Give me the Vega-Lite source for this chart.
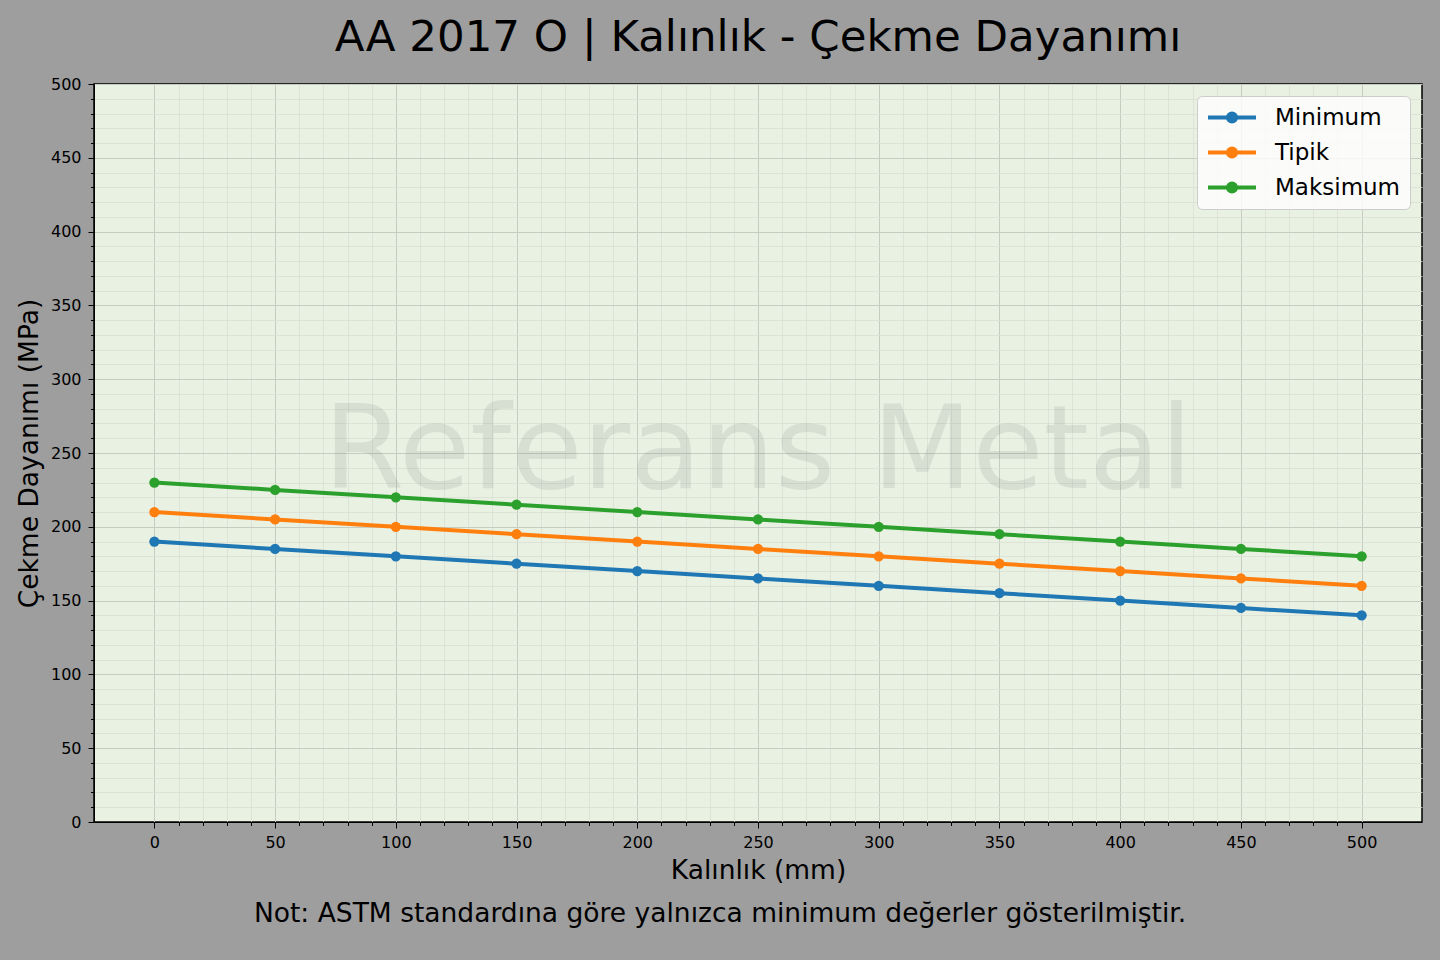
{
  "$schema": "https://vega.github.io/schema/vega-lite/v6.json",
  "width": 1328,
  "height": 738,
  "autosize": {"type": "none"},
  "padding": {"left": 94, "top": 84, "right": 18, "bottom": 138},
  "background": "#9e9e9e",
  "view": {"fill": "#e9f1e3", "stroke": "#000000", "strokeWidth": 1.5},
  "config": {"font": "DejaVu Sans"},
  "title": {
    "text": "AA 2017 O | Kalınlık - Çekme Dayanımı",
    "fontSize": 43.5,
    "font": "DejaVu Sans",
    "fontWeight": "normal",
    "color": "#000000",
    "anchor": "middle",
    "baseline": "alphabetic",
    "offset": 24,
    "dy": 42
  },
  "resolve": {"axis": {"x": "independent", "y": "independent"}},
  "data": {
    "values": [
      {"seri": "Minimum", "kalinlik": 0, "deger": 190},
      {"seri": "Minimum", "kalinlik": 50, "deger": 185},
      {"seri": "Minimum", "kalinlik": 100, "deger": 180},
      {"seri": "Minimum", "kalinlik": 150, "deger": 175},
      {"seri": "Minimum", "kalinlik": 200, "deger": 170},
      {"seri": "Minimum", "kalinlik": 250, "deger": 165},
      {"seri": "Minimum", "kalinlik": 300, "deger": 160},
      {"seri": "Minimum", "kalinlik": 350, "deger": 155},
      {"seri": "Minimum", "kalinlik": 400, "deger": 150},
      {"seri": "Minimum", "kalinlik": 450, "deger": 145},
      {"seri": "Minimum", "kalinlik": 500, "deger": 140},
      {"seri": "Tipik", "kalinlik": 0, "deger": 210},
      {"seri": "Tipik", "kalinlik": 50, "deger": 205},
      {"seri": "Tipik", "kalinlik": 100, "deger": 200},
      {"seri": "Tipik", "kalinlik": 150, "deger": 195},
      {"seri": "Tipik", "kalinlik": 200, "deger": 190},
      {"seri": "Tipik", "kalinlik": 250, "deger": 185},
      {"seri": "Tipik", "kalinlik": 300, "deger": 180},
      {"seri": "Tipik", "kalinlik": 350, "deger": 175},
      {"seri": "Tipik", "kalinlik": 400, "deger": 170},
      {"seri": "Tipik", "kalinlik": 450, "deger": 165},
      {"seri": "Tipik", "kalinlik": 500, "deger": 160},
      {"seri": "Maksimum", "kalinlik": 0, "deger": 230},
      {"seri": "Maksimum", "kalinlik": 50, "deger": 225},
      {"seri": "Maksimum", "kalinlik": 100, "deger": 220},
      {"seri": "Maksimum", "kalinlik": 150, "deger": 215},
      {"seri": "Maksimum", "kalinlik": 200, "deger": 210},
      {"seri": "Maksimum", "kalinlik": 250, "deger": 205},
      {"seri": "Maksimum", "kalinlik": 300, "deger": 200},
      {"seri": "Maksimum", "kalinlik": 350, "deger": 195},
      {"seri": "Maksimum", "kalinlik": 400, "deger": 190},
      {"seri": "Maksimum", "kalinlik": 450, "deger": 185},
      {"seri": "Maksimum", "kalinlik": 500, "deger": 180}
    ]
  },
  "layer": [
    {
      "data": {"values": [{"metin": "Referans Metal"}]},
      "mark": {"type": "text", "fontSize": 116, "font": "DejaVu Sans", "color": "rgba(128,128,128,0.17)", "align": "center", "baseline": "alphabetic"},
      "encoding": {
        "x": {"datum": 250, "type": "quantitative", "axis": null},
        "y": {"datum": 226, "type": "quantitative", "axis": null},
        "text": {"field": "metin"}
      }
    },
    {
      "mark": {"type": "point", "filled": true, "size": 0, "opacity": 0},
      "encoding": {
        "x": {
          "field": "kalinlik",
          "type": "quantitative",
          "axis": {
            "orient": "bottom",
            "title": null,
            "labels": false,
            "domain": false,
            "values": [0,10,20,30,40,60,70,80,90,110,120,130,140,160,170,180,190,210,220,230,240,260,270,280,290,310,320,330,340,360,370,380,390,410,420,430,440,460,470,480,490],
            "tickColor": "#000000",
            "tickSize": 3.5,
            "grid": true,
            "gridColor": "#d9e0d4",
            "gridWidth": 0.8
          }
        },
        "y": {
          "field": "deger",
          "type": "quantitative",
          "axis": {
            "orient": "left",
            "title": null,
            "labels": false,
            "domain": false,
            "values": [10,20,30,40,60,70,80,90,110,120,130,140,160,170,180,190,210,220,230,240,260,270,280,290,310,320,330,340,360,370,380,390,410,420,430,440,460,470,480,490],
            "tickColor": "#000000",
            "tickSize": 3.5,
            "grid": true,
            "gridColor": "#d9e0d4",
            "gridWidth": 0.8
          }
        }
      }
    },
    {
      "mark": {"type": "line", "strokeWidth": 4},
      "encoding": {
        "x": {
          "field": "kalinlik",
          "type": "quantitative",
          "scale": {"domain": [-25, 525], "nice": false, "zero": false},
          "axis": {
            "orient": "bottom",
            "title": "Kalınlık (mm)",
            "titleFontSize": 26.5,
            "titleFontWeight": "normal",
            "titleColor": "#000000",
            "titlePadding": 7,
            "values": [0,50,100,150,200,250,300,350,400,450,500],
            "labelFontSize": 16,
            "labelColor": "#000000",
            "labelPadding": 6,
            "labelFlush": false,
            "labelOverlap": false,
            "domainColor": "#000000",
            "tickColor": "#000000",
            "tickSize": 6,
            "grid": true,
            "gridColor": "#c6ccc1",
            "gridWidth": 1
          }
        },
        "y": {
          "field": "deger",
          "type": "quantitative",
          "scale": {"domain": [0, 500], "nice": false},
          "axis": {
            "orient": "left",
            "title": "Çekme Dayanımı (MPa)",
            "titleFontSize": 26.5,
            "titleFontWeight": "normal",
            "titleColor": "#000000",
            "titlePadding": 7,
            "values": [0,50,100,150,200,250,300,350,400,450,500],
            "labelFontSize": 16,
            "labelColor": "#000000",
            "labelPadding": 7,
            "labelFlush": false,
            "labelOverlap": false,
            "domainColor": "#000000",
            "tickColor": "#000000",
            "tickSize": 6,
            "grid": true,
            "gridColor": "#c6ccc1",
            "gridWidth": 1
          }
        },
        "color": {
          "field": "seri",
          "type": "nominal",
          "sort": ["Minimum", "Tipik", "Maksimum"],
          "scale": {"domain": ["Minimum", "Tipik", "Maksimum"], "range": ["#1f77b4", "#ff7f0e", "#2ca02c"]},
          "legend": {
            "title": null,
            "orient": "top-right",
            "offset": 12,
            "labelFontSize": 23,
            "labelColor": "#000000",
            "labelOffset": 17,
            "symbolType": "M-1,0L1,0M0.17,0A0.17,0.17,0,1,1,-0.17,0A0.17,0.17,0,1,1,0.17,0Z",
            "symbolSize": 2304,
            "symbolStrokeWidth": 4,
            "clipHeight": 25,
            "rowPadding": 10,
            "padding": 9,
            "cornerRadius": 5,
            "fillColor": "rgba(255,255,255,0.8)",
            "strokeColor": "#cccccc",
            "encode": {
              "symbols": {
                "update": {
                  "fill": {"scale": "color", "field": "value"},
                  "stroke": {"scale": "color", "field": "value"},
                  "opacity": {"value": 1}
                }
              }
            }
          }
        }
      }
    },
    {
      "mark": {"type": "point", "filled": true, "size": 105, "opacity": 1},
      "encoding": {
        "x": {"field": "kalinlik", "type": "quantitative", "axis": null},
        "y": {"field": "deger", "type": "quantitative", "axis": null},
        "color": {"field": "seri", "type": "nominal"}
      }
    },
    {
      "data": {"values": [{"metin": "Not: ASTM standardına göre yalnızca minimum değerler gösterilmiştir."}]},
      "mark": {"type": "text", "fontSize": 26.5, "font": "DejaVu Sans", "color": "#000000", "align": "center", "baseline": "alphabetic"},
      "encoding": {
        "x": {"datum": 234.3, "type": "quantitative", "axis": null},
        "y": {"datum": -67.7, "type": "quantitative", "axis": null},
        "text": {"field": "metin"}
      }
    }
  ]
}
